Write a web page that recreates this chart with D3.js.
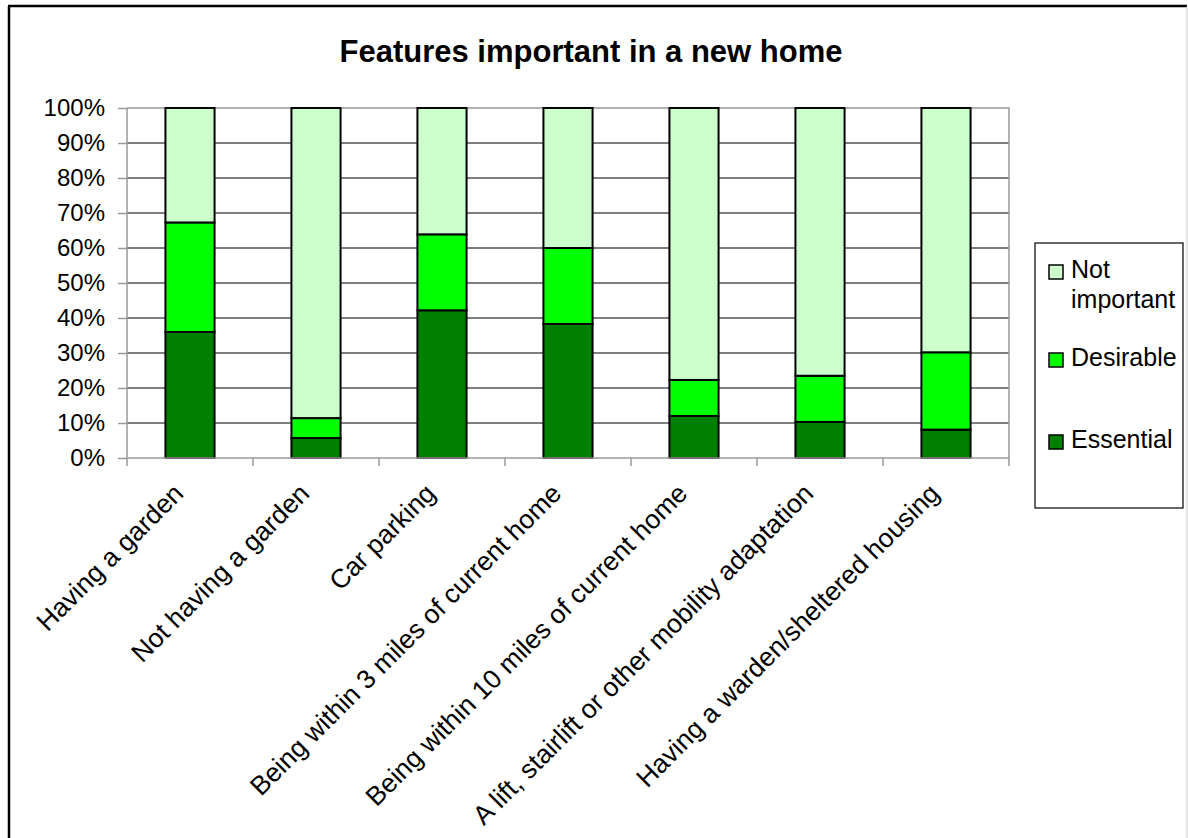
<!DOCTYPE html>
<html>
<head>
	<meta charset="utf-8">
	<script type="text/javascript" src="https://cdn.jsdelivr.net/npm/d3@7"></script>
	<title>Features important in a new home</title>
	<style>
		body { margin: 0; background: #fff; }
		text { font-family: Arial, "Liberation Sans", sans-serif; }
	</style>
</head>
<body>
	<script type="text/javascript">

	// data (percent of respondents)
	var categories = ["Having a garden", "Not having a garden", "Car parking",
		"Being within 3 miles of current home", "Being within 10 miles of current home",
		"A lift, stairlift or other mobility adaptation", "Having a warden/sheltered housing"];
	var essential = [36, 5.7, 42.2, 38.3, 12, 10.3, 8.1];
	var desirable = [31.3, 5.7, 21.7, 21.7, 10.3, 13.2, 22.1];
	var notImportant = [32.7, 88.6, 36.1, 40, 77.7, 76.5, 69.8];
	var seriesNames = ["Essential", "Desirable", "Not important"];
	var seriesColors = ["#008000", "#00ff00", "#ccffcc"];
	var yTicks = [0, 10, 20, 30, 40, 50, 60, 70, 80, 90, 100];

	var widthSvg = 1188;
	var heightSvg = 838;
	var plotLeft = 127, plotRight = 1009, plotTop = 108, plotBottom = 458;

	var svg = d3.select("body")
		.append("svg")
		.attr("width", widthSvg)
		.attr("height", heightSvg);

	// outer frame
	svg.append("line").attr("x1", 9).attr("y1", 6).attr("x2", 9).attr("y2", heightSvg)
		.attr("stroke", "#000").attr("stroke-width", 2.5);
	svg.append("line").attr("x1", 8).attr("y1", 6).attr("x2", 1187).attr("y2", 6)
		.attr("stroke", "#000").attr("stroke-width", 2.5);
	svg.append("line").attr("x1", 1187).attr("y1", 6).attr("x2", 1187).attr("y2", heightSvg)
		.attr("stroke", "#c8c8c8").attr("stroke-width", 1);

	svg.append("text")
		.attr("x", 591)
		.attr("y", 62)
		.attr("text-anchor", "middle")
		.attr("font-size", 31)
		.attr("font-weight", "bold")
		.text("Features important in a new home");

	var xScale = d3.scaleBand()
		.domain(categories)
		.range([plotLeft, plotRight])
		.paddingInner(0.61)
		.paddingOuter(0.305);

	var yScale = d3.scaleLinear()
		.domain([0, 100])
		.range([plotBottom, plotTop]);

	// gridlines
	svg.append("g").selectAll("line")
		.data(yTicks.filter(function(d) { return d > 0 && d < 100; }))
		.enter()
		.append("line")
		.attr("x1", plotLeft).attr("x2", plotRight)
		.attr("y1", function(d) { return yScale(d); })
		.attr("y2", function(d) { return yScale(d); })
		.attr("stroke", "#000")
		.attr("stroke-width", 1.2);

	// plot border top and right
	svg.append("path")
		.attr("d", "M" + plotLeft + "," + yScale(100) + "H" + plotRight + "V" + plotBottom)
		.attr("fill", "none")
		.attr("stroke", "#999")
		.attr("stroke-width", 1.5);

	// stacked bars
	var table = categories.map(function(c, i) {
		return { cat: c, Essential: essential[i], Desirable: desirable[i], "Not important": notImportant[i] };
	});
	var stacked = d3.stack().keys(seriesNames)(table);

	svg.append("g").selectAll("g")
		.data(stacked)
		.enter()
		.append("g")
		.attr("fill", function(d, i) { return seriesColors[i]; })
		.selectAll("rect")
		.data(function(d) { return d; })
		.enter()
		.append("rect")
		.attr("x", function(d) { return xScale(d.data.cat); })
		.attr("y", function(d) { return yScale(d[1]); })
		.attr("width", xScale.bandwidth())
		.attr("height", function(d) { return yScale(d[0]) - yScale(d[1]); })
		.attr("stroke", "#000")
		.attr("stroke-width", 2);

	// y axis
	var yAxis = svg.append("g")
		.attr("transform", "translate(" + plotLeft + ",0)")
		.call(d3.axisLeft(yScale).tickValues(yTicks).tickSize(9).tickPadding(13)
			.tickFormat(function(d) { return d + "%"; }));
	yAxis.selectAll("path, line").attr("stroke", "#999").attr("stroke-width", 1.5);
	yAxis.select(".domain").attr("d", "M0," + plotTop + "V" + plotBottom);
	yAxis.selectAll("text").attr("font-size", 24).attr("fill", "#000")
		.attr("font-family", "Arial, 'Liberation Sans', sans-serif");

	// x axis with ticks between categories
	var step = xScale.step();
	var bounds = d3.range(categories.length + 1).map(function(i) { return plotLeft + i * step; });
	svg.append("line")
		.attr("x1", plotLeft).attr("x2", plotRight)
		.attr("y1", plotBottom).attr("y2", plotBottom)
		.attr("stroke", "#999").attr("stroke-width", 1.5);
	svg.append("g").selectAll("line")
		.data(bounds)
		.enter()
		.append("line")
		.attr("x1", function(d) { return d; }).attr("x2", function(d) { return d; })
		.attr("y1", plotBottom).attr("y2", plotBottom + 8)
		.attr("stroke", "#999").attr("stroke-width", 1.5);

	svg.append("g").selectAll("text")
		.data(categories)
		.enter()
		.append("text")
		.attr("transform", function(d) {
			var cx = xScale(d) + xScale.bandwidth() / 2 - 5;
			return "translate(" + cx + "," + (plotBottom + 37) + ") rotate(-45)";
		})
		.attr("text-anchor", "end")
		.attr("font-size", 26.5)
		.text(function(d) { return d; });

	// legend
	var legend = svg.append("g");
	legend.append("rect")
		.attr("x", 1035).attr("y", 243)
		.attr("width", 148).attr("height", 265)
		.attr("fill", "#fff").attr("stroke", "#000").attr("stroke-width", 1.2);

	var legendItems = [
		{ name: "Not important", lines: ["Not", "important"], color: seriesColors[2], y: 265 },
		{ name: "Desirable", lines: ["Desirable"], color: seriesColors[1], y: 353 },
		{ name: "Essential", lines: ["Essential"], color: seriesColors[0], y: 435 }
	];
	var items = legend.selectAll("g.item")
		.data(legendItems)
		.enter()
		.append("g")
		.attr("class", "item");
	items.append("rect")
		.attr("x", 1049).attr("y", function(d) { return d.y; })
		.attr("width", 14).attr("height", 14)
		.attr("fill", function(d) { return d.color; })
		.attr("stroke", "#000").attr("stroke-width", 1.5);
	items.append("text")
		.attr("x", 1071)
		.attr("y", function(d) { return d.y + 13; })
		.attr("font-size", 25)
		.selectAll("tspan")
		.data(function(d) { return d.lines; })
		.enter()
		.append("tspan")
		.attr("x", 1071)
		.attr("dy", function(d, i) { return i === 0 ? 0 : 30; })
		.text(function(d) { return d; });

	</script>
</body>
</html>
